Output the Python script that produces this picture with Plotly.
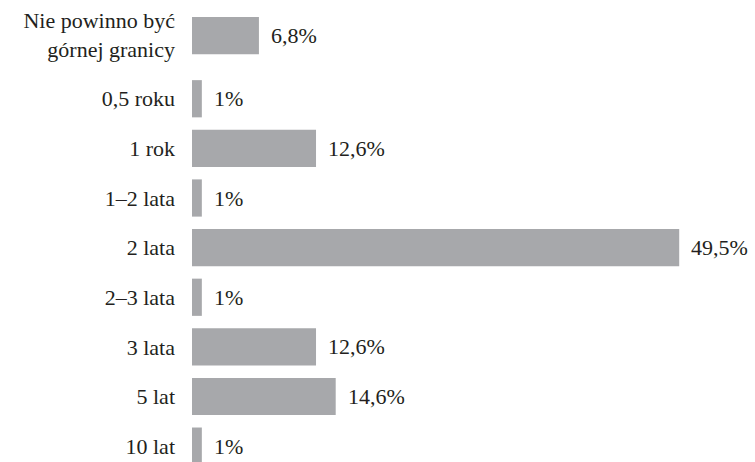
import plotly.graph_objects as go

categories = ["Nie powinno być<br>górnej granicy", "0,5 roku", "1 rok", "1–2 lata",
              "2 lata", "2–3 lata", "3 lata", "5 lat", "10 lat"]
values = [6.8, 1, 12.6, 1, 49.5, 1, 12.6, 14.6, 1]
value_labels = [f"{v:g}".replace(".", ",") + "%" for v in values]

FONT = "Liberation Serif, Times New Roman, serif"
BAR = "#a7a8ab"
INK = "#231f20"
FS = 22
BAR_W = 0.75
# the two-line first row sits a little higher in the reference
row_lift = [0.27 if "<br>" in c else 0.0 for c in categories]
offsets = [-BAR_W / 2 - s for s in row_lift]
tick_text = [c + "<br> " if "<br>" in c else c for c in categories]

fig = go.Figure(go.Bar(
    y=categories, x=values, orientation="h",
    marker=dict(color=BAR, line=dict(width=0)),
    width=BAR_W, offset=offsets, hoverinfo="skip",
))

for c, v, t, s in zip(categories, values, value_labels, row_lift):
    fig.add_annotation(x=v, y=c, text=t, xref="x", yref="y", showarrow=False,
                       xanchor="left", yanchor="middle", xshift=10, yshift=s * 49.6,
                       font=dict(family=FONT, size=FS, color=INK))

fig.update_layout(
    width=755, height=462,
    margin=dict(l=192, r=0, t=0, b=0),
    paper_bgcolor="white", plot_bgcolor="white",
    showlegend=False,
    font=dict(family=FONT, size=FS, color=INK),
    xaxis=dict(range=[0, 57.2], visible=False, fixedrange=True),
    yaxis=dict(type="category", categoryorder="array", categoryarray=categories,
               tickmode="array", tickvals=categories, ticktext=tick_text,
               range=[8.32, -0.99], showgrid=False, zeroline=False, showline=False,
               ticks="", ticklabelstandoff=16, automargin=False,
               tickfont=dict(family=FONT, size=FS, color=INK)),
)

fig.write_html("out.html", config={"displayModeBar": False},
               post_script="document.body.style.margin='0';document.body.style.padding='0';")
